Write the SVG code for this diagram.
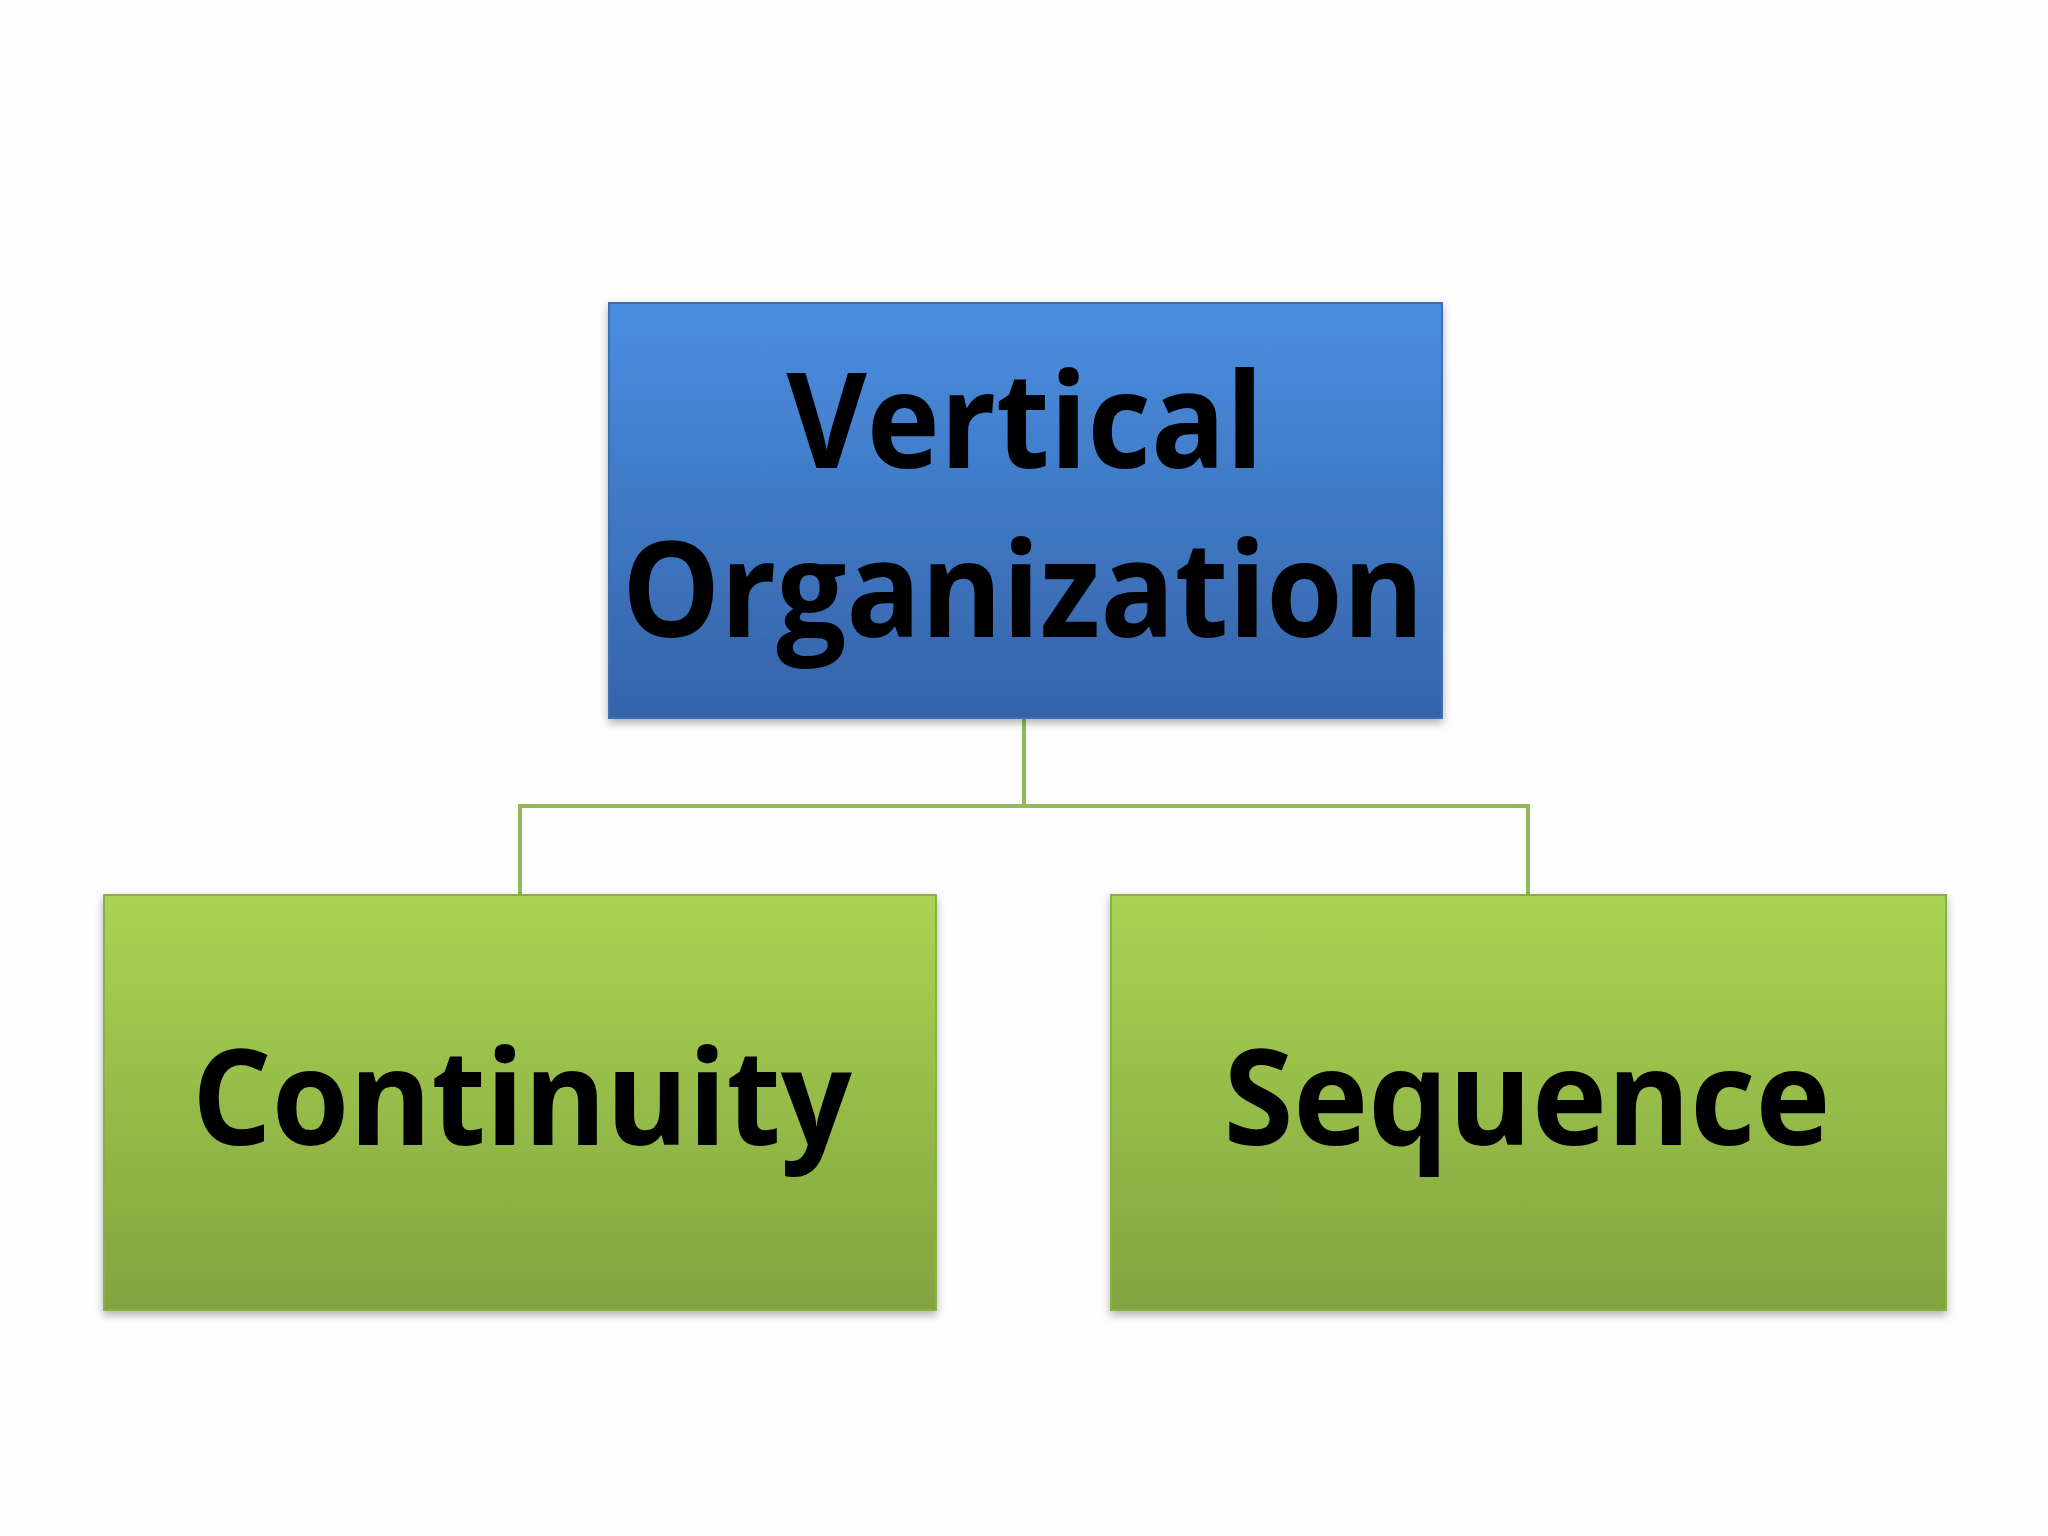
<svg xmlns="http://www.w3.org/2000/svg" width="2048" height="1536" viewBox="0 0 2048 1536">
<defs>
<linearGradient id="gb" x1="0" y1="0" x2="0" y2="1"><stop offset="0" stop-color="#4a8ee0"/><stop offset="1" stop-color="#3563a8"/></linearGradient>
<linearGradient id="gg" x1="0" y1="0" x2="0" y2="1"><stop offset="0" stop-color="#a9d454"/><stop offset="1" stop-color="#82a43e"/></linearGradient>
<filter id="sh" x="-5%" y="-5%" width="110%" height="115%"><feDropShadow dx="0" dy="4" stdDeviation="4" flood-color="#000" flood-opacity="0.3"/></filter>
<style>
.t{font-family:"Open Sans","Liberation Sans",sans-serif;font-weight:bold;font-size:132px;fill:#000;text-anchor:middle}
.c{fill:none;stroke:#93b95a;stroke-width:4}
</style>
</defs>
<rect width="2048" height="1536" fill="#fdfdfd"/>
<g id="connectors">
<path class="c" d="M1024 718V806M520 895V806H1528V895"/>
</g>
<g id="n1">
<rect x="609" y="303" width="833" height="415" fill="url(#gb)" stroke="#3a6fb5" stroke-width="2" filter="url(#sh)"/>
<text class="t" x="1025" y="468" textLength="477" lengthAdjust="spacingAndGlyphs">Vertical</text>
<text class="t" x="1023" y="637" textLength="802" lengthAdjust="spacingAndGlyphs">Organization</text>
</g>
<g id="n2">
<rect x="104" y="895" width="832" height="415" fill="url(#gg)" stroke="#8aaf48" stroke-width="2" filter="url(#sh)"/>
<text class="t" x="522" y="1145" textLength="660" lengthAdjust="spacingAndGlyphs">Continuity</text>
</g>
<g id="n3">
<rect x="1111" y="895" width="835" height="415" fill="url(#gg)" stroke="#8aaf48" stroke-width="2" filter="url(#sh)"/>
<text class="t" x="1527" y="1145" textLength="607" lengthAdjust="spacingAndGlyphs">Sequence</text>
</g>
</svg>
